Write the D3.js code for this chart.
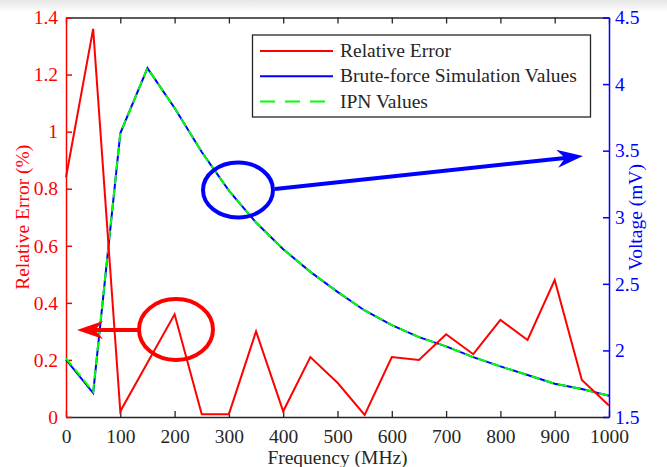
<!DOCTYPE html>
<html>
<head>
<meta charset="utf-8">
<script src="https://cdn.jsdelivr.net/npm/d3@7"></script>
<style>
  body { margin: 0; background: #fff; }
</style>
</head>
<body>
<div id="canvas"></div>
<script>
// data
var freq = [0,50,100,150,200,250,300,350,400,450,500,550,600,650,700,750,800,850,900,950,1000];
var relError = [0.84,1.36,0.02,0.19,0.36,0.01,0.01,0.30,0.02,0.21,0.12,0.007,0.21,0.20,0.29,0.22,0.34,0.27,0.48,0.13,0.04];
var bruteForce = [1.93,1.68,3.63,4.12,3.82,3.49,3.20,2.96,2.76,2.59,2.44,2.30,2.19,2.10,2.03,1.95,1.88,1.815,1.75,1.71,1.66];
var ipn = [1.94,1.69,3.63,4.12,3.82,3.49,3.20,2.96,2.76,2.59,2.44,2.30,2.19,2.10,2.03,1.95,1.88,1.815,1.75,1.71,1.66];
var xTicks = [0,100,200,300,400,500,600,700,800,900,1000];
var leftTicks = [0,0.2,0.4,0.6,0.8,1,1.2,1.4];
var rightTicks = [1.5,2,2.5,3,3.5,4,4.5];
var legendNames = ["Relative Error","Brute-force Simulation Values","IPN Values"];

var W = 667, H = 467;
var m = {t:17.5, r:58, b:50, l:66};
var w = W - m.l - m.r, h = H - m.t - m.b;
var FONT = '"Liberation Serif", "Times New Roman", Tinos, "DejaVu Serif", serif';
var FS = '19.5px';

var svg = d3.select('#canvas').append('svg')
    .attr('width', W).attr('height', H);

// faint shading along the top edge of the screenshot
var grad = svg.append('defs').append('linearGradient')
    .attr('id','topShade').attr('x1',0).attr('y1',0).attr('x2',0).attr('y2',1);
grad.append('stop').attr('offset','0%').attr('stop-color','#e6e6e6');
grad.append('stop').attr('offset','100%').attr('stop-color','#ffffff');
svg.append('rect').attr('x',0).attr('y',0).attr('width',W).attr('height',12)
    .attr('fill','url(#topShade)');

var plot = svg.append('g')
    .attr('transform', 'translate(' + m.l + ',' + m.t + ')');

var x = d3.scaleLinear().domain([0,1000]).range([0,w]);
var yL = d3.scaleLinear().domain([0,1.4]).range([h,0]);
var yR = d3.scaleLinear().domain([1.5,4.5]).range([h,0]);

var RED = '#ff0000', BLUE = '#0000ff', GREEN = '#00ff00', DARK = '#262626';

// axes (ticks point inward)
var fmt = function(d){ return d3.format('~g')(d); };

var gx = plot.append('g').attr('transform','translate(0,' + h + ')')
    .call(d3.axisBottom(x).tickValues(xTicks).tickSizeInner(-6).tickSizeOuter(0).tickPadding(12).tickFormat(fmt));
var gxt = plot.append('g')
    .call(d3.axisTop(x).tickValues(xTicks).tickSizeInner(-6).tickSizeOuter(0).tickFormat(''));
var gl = plot.append('g')
    .call(d3.axisLeft(yL).tickValues(leftTicks).tickSizeInner(-6).tickSizeOuter(0).tickPadding(8).tickFormat(fmt));
var gr = plot.append('g').attr('transform','translate(' + w + ',0)')
    .call(d3.axisRight(yR).tickValues(rightTicks).tickSizeInner(-6).tickSizeOuter(0).tickPadding(6).tickFormat(fmt));

[gx, gxt].forEach(function(g){
  g.select('.domain').attr('stroke', DARK).attr('stroke-width', 1.3);
  g.selectAll('.tick line').attr('stroke', DARK).attr('stroke-width', 1.3);
  g.selectAll('text').attr('fill', DARK);
});
gl.select('.domain').attr('stroke', RED).attr('stroke-width', 1.5);
gl.selectAll('.tick line').attr('stroke', RED).attr('stroke-width', 1.5);
gl.selectAll('text').attr('fill', RED);
gr.select('.domain').attr('stroke', BLUE).attr('stroke-width', 1.5);
gr.selectAll('.tick line').attr('stroke', BLUE).attr('stroke-width', 1.5);
gr.selectAll('text').attr('fill', BLUE);
[gx, gl, gr].forEach(function(g){
  g.attr('font-family', null).attr('font-size', null);
  g.selectAll('text').style('font-family', FONT).style('font-size', FS);
});

// axis titles
svg.append('text').attr('x', m.l + w/2).attr('y', 464).attr('text-anchor','middle')
    .attr('fill', DARK).style('font-family', FONT).style('font-size', FS).text('Frequency (MHz)');
svg.append('text').attr('transform','translate(29,' + (m.t + h/2) + ') rotate(-90)')
    .attr('text-anchor','middle').attr('fill', RED).style('font-family', FONT).style('font-size', FS).text('Relative Error (%)');
svg.append('text').attr('transform','translate(642,' + (m.t + h/2) + ') rotate(-90)')
    .attr('text-anchor','middle').attr('fill', BLUE).style('font-family', FONT).style('font-size', FS).text('Voltage (mV)');

// lines
var lineL = d3.line().x(function(d){ return x(d[0]); }).y(function(d){ return yL(d[1]); });
var lineR = d3.line().x(function(d){ return x(d[0]); }).y(function(d){ return yR(d[1]); });

plot.append('path').datum(d3.zip(freq, bruteForce)).attr('d', lineR)
    .attr('fill','none').attr('stroke', BLUE).attr('stroke-width', 2);
plot.append('path').datum(d3.zip(freq, ipn)).attr('d', lineR)
    .attr('fill','none').attr('stroke', GREEN).attr('stroke-width', 2).attr('stroke-dasharray','9,5');
plot.append('path').datum(d3.zip(freq, relError)).attr('d', lineL)
    .attr('fill','none').attr('stroke', RED).attr('stroke-width', 2);

// annotations: ellipses and arrows
function arrow(x1, y1, x2, y2, col){
  var g = svg.append('g');
  var ang = Math.atan2(y2 - y1, x2 - x1);
  var L = 26, hw = 9, notch = 8;
  var bx = x2 - L*Math.cos(ang), by = y2 - L*Math.sin(ang);
  var nx = x2 - (L - notch)*Math.cos(ang), ny = y2 - (L - notch)*Math.sin(ang);
  var px = -Math.sin(ang), py = Math.cos(ang);
  g.append('line').attr('x1', x1).attr('y1', y1).attr('x2', nx).attr('y2', ny)
      .attr('stroke', col).attr('stroke-width', 4);
  g.append('path')
      .attr('d', 'M' + x2 + ',' + y2 + 'L' + (bx + px*hw) + ',' + (by + py*hw) +
                 'L' + nx + ',' + ny + 'L' + (bx - px*hw) + ',' + (by - py*hw) + 'Z')
      .attr('fill', col);
}
svg.append('ellipse').attr('cx', 238).attr('cy', 190).attr('rx', 35).attr('ry', 27.5)
    .attr('fill','none').attr('stroke', BLUE).attr('stroke-width', 4);
arrow(275, 189, 583, 156, BLUE);
svg.append('ellipse').attr('cx', 176).attr('cy', 329.5).attr('rx', 37).attr('ry', 30.5)
    .attr('fill','none').attr('stroke', RED).attr('stroke-width', 4);
arrow(139, 330, 77, 330, RED);

// legend
var lg = svg.append('g');
lg.append('rect').attr('x', 252.5).attr('y', 35).attr('width', 338).attr('height', 82)
    .attr('fill','#fff').attr('stroke', DARK).attr('stroke-width', 1.3);
var legendCols = [RED, BLUE, GREEN];
legendNames.forEach(function(name, i){
  var yy = 51 + i*25.3;
  lg.append('line').attr('x1', 260).attr('x2', 333).attr('y1', yy).attr('y2', yy)
      .attr('stroke', legendCols[i]).attr('stroke-width', 2)
      .attr('stroke-dasharray', i === 2 ? '15,10' : null);
  lg.append('text').attr('x', 340).attr('y', yy + 6).attr('fill', DARK)
      .style('font-family', FONT).style('font-size', FS).text(name);
});
</script>
</body>
</html>
